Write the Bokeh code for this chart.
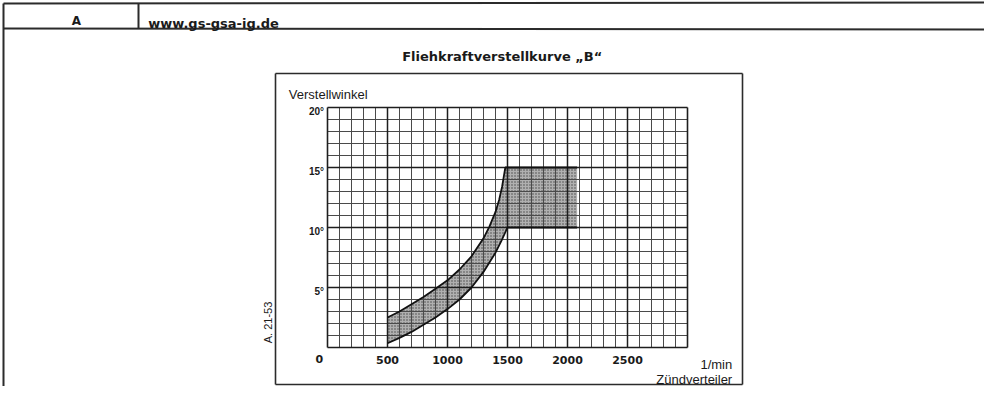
import math
from bokeh.plotting import figure
from bokeh.models import Range1d
from bokeh.core.properties import value
from bokeh.embed import file_html
from bokeh.resources import INLINE

# ---------------- data ----------------
title_text = "Fliehkraftverstellkurve „B“"
header_left = "A"
header_right = "www.gs-gsa-ig.de"
y_axis_title = "Verstellwinkel"
x_axis_unit = "1/min"
x_axis_title = "Zündverteiler"
side_note = "A. 21-53"

rpm_max = 3000
deg_max = 20
rpm_minor_step = 100
deg_minor_step = 1
rpm_major_step = 500
deg_major_step = 5

x_tick_values = [500, 1000, 1500, 2000, 2500]
x_tick_labels = ["500", "1000", "1500", "2000", "2500"]
origin_label = "0"
y_tick_values = [5, 10, 15, 20]
y_tick_labels = ["5°", "10°", "15°", "20°"]

# advance band (upper and lower limit curves)
upper_rpm = [500, 600, 700, 800, 900, 1000, 1100, 1200, 1300, 1350, 1400, 1430, 1455, 1470, 1482, 2080]
upper_deg = [2.5, 3.0, 3.6, 4.2, 4.9, 5.6, 6.5, 7.6, 9.1, 10.1, 11.3, 12.3, 13.4, 14.3, 15.0, 15.0]
lower_rpm = [500, 600, 700, 800, 900, 1000, 1100, 1200, 1300, 1400, 1450, 1500, 2080]
lower_deg = [0.35, 0.8, 1.3, 1.9, 2.5, 3.2, 4.0, 5.0, 6.3, 7.9, 8.9, 10.0, 10.0]

# ---------------- layout helpers ----------------
W, H = 984, 386
OX, OY = 327, 347          # pixel of (0 rpm, 0 deg)
SX, SY = 0.12, 12.0        # pixels per rpm, pixels per degree


def dx(px):
    return (px - OX) / SX


def dy(py):
    return (OY - py) / SY


p = figure(width=W, height=H, output_backend="svg", toolbar_location=None,
           x_range=Range1d(-OX / SX, (W - OX) / SX),
           y_range=Range1d(-(H - OY) / SY, OY / SY),
           x_axis_type=None, y_axis_type=None,
           min_border=0, min_border_left=0, min_border_right=0,
           min_border_top=0, min_border_bottom=0,
           outline_line_color=None,
           background_fill_color="white", border_fill_color="white")

INK = "#2b2b2b"
TXT = "#1a1a1a"

# ---------------- page frame / header ----------------
p.segment(x0=[dx(3), dx(3), dx(138), dx(3)],
          y0=[dy(3), dy(28), dy(3), dy(3)],
          x1=[dx(1000), dx(1000), dx(138), dx(3)],
          y1=[dy(2), dy(29), dy(28), dy(400)],
          line_color=INK, line_width=2)

p.text(x=[dx(76)], y=[dy(20.7)], text=[header_left],
       text_font=value("DejaVu Sans"), text_font_style="bold",
       text_font_size="12px", text_align="center",
       text_baseline="alphabetic", text_color=TXT)
p.text(x=[dx(147.7)], y=[dy(22.5)], text=[header_right],
       text_font=value("DejaVu Sans"), text_font_style="bold",
       text_font_size="13px", text_align="left",
       text_baseline="alphabetic", text_color=TXT)

# title
p.text(x=[dx(501.7)], y=[dy(55.7)], text=[title_text],
       text_font=value("DejaVu Sans"), text_font_style="bold",
       text_font_size="13px", text_align="center",
       text_baseline="alphabetic", text_color=TXT)

# chart box
p.segment(x0=[dx(275), dx(742), dx(742), dx(275)],
          y0=[dy(73), dy(73), dy(384), dy(384)],
          x1=[dx(742), dx(742), dx(275), dx(275)],
          y1=[dy(73), dy(384), dy(384), dy(73)],
          line_color=INK, line_width=1.6)

# ---------------- band fill ----------------
band_x = upper_rpm + lower_rpm[::-1]
band_y = upper_deg + lower_deg[::-1]
p.patch(x=band_x, y=band_y, fill_color="#b0b0b0", line_color=None,
        hatch_pattern="dot", hatch_color="#444444", hatch_scale=3,
        hatch_weight=0.8)

# ---------------- grid ----------------
vx = list(range(0, rpm_max + 1, rpm_minor_step))
hy = list(range(0, deg_max + 1, deg_minor_step))
minor_v = [v for v in vx if v % rpm_major_step != 0]
major_v = [v for v in vx if v % rpm_major_step == 0 and 0 < v < rpm_max]
minor_h = [h for h in hy if h % deg_major_step != 0]
major_h = [h for h in hy if h % deg_major_step == 0 and 0 < h < deg_max]

p.segment(x0=minor_v, y0=[0] * len(minor_v), x1=minor_v, y1=[deg_max] * len(minor_v),
          line_color="#4a4a4a", line_width=1)
p.segment(x0=[0] * len(minor_h), y0=minor_h, x1=[rpm_max] * len(minor_h), y1=minor_h,
          line_color="#4a4a4a", line_width=1)
p.segment(x0=major_v, y0=[0] * len(major_v), x1=major_v, y1=[deg_max] * len(major_v),
          line_color="#1e1e1e", line_width=1.5)
p.segment(x0=[0] * len(major_h), y0=major_h, x1=[rpm_max] * len(major_h), y1=major_h,
          line_color="#1e1e1e", line_width=1.5)
# grid border
p.segment(x0=[0, 0, rpm_max, 0], y0=[0, deg_max, 0, 0],
          x1=[rpm_max, rpm_max, rpm_max, 0], y1=[0, deg_max, deg_max, deg_max],
          line_color="#1e1e1e", line_width=1.6)

# ---------------- band outline ----------------
p.line(x=upper_rpm, y=upper_deg, line_color="#111111", line_width=1.8)
p.line(x=lower_rpm, y=lower_deg, line_color="#111111", line_width=1.8)

# ---------------- tick labels ----------------
p.text(x=x_tick_values, y=[0] * len(x_tick_values), text=x_tick_labels,
       text_font=value("DejaVu Sans"), text_font_style="bold",
       text_font_size="11px", text_align="center", text_baseline="alphabetic",
       y_offset=12.3, text_color=TXT)
p.text(x=[0], y=[0], text=[origin_label],
       text_font=value("DejaVu Sans"), text_font_style="bold",
       text_font_size="11px", text_align="right", text_baseline="alphabetic",
       x_offset=-4.3, y_offset=11.5, text_color=TXT)
p.text(x=[0] * len(y_tick_values), y=y_tick_values, text=y_tick_labels,
       text_font=value("Liberation Sans"), text_font_style="bold",
       text_font_size="10px", text_align="right", text_baseline="alphabetic",
       x_offset=-3.5, y_offset=3.6, text_color=TXT)

# ---------------- axis titles ----------------
p.text(x=[dx(288.3)], y=[dy(94)], text=[y_axis_title],
       text_font=value("Liberation Sans"), text_font_size="13px",
       text_align="left", text_baseline="alphabetic", text_color=TXT)
p.text(x=[dx(731.7)], y=[dy(364)], text=[x_axis_unit],
       text_font=value("Liberation Sans"), text_font_size="13px",
       text_align="right", text_baseline="alphabetic", text_color=TXT)
p.text(x=[dx(731.7)], y=[dy(379)], text=[x_axis_title],
       text_font=value("Liberation Sans"), text_font_size="13px",
       text_align="right", text_baseline="alphabetic", text_color=TXT)
p.text(x=[dx(267)], y=[dy(322)], text=[side_note], angle=math.pi / 2,
       text_font=value("Liberation Sans"), text_font_size="11px",
       text_align="center", text_baseline="middle", text_color=TXT)

open("out.html", "w").write(file_html(p, INLINE))
